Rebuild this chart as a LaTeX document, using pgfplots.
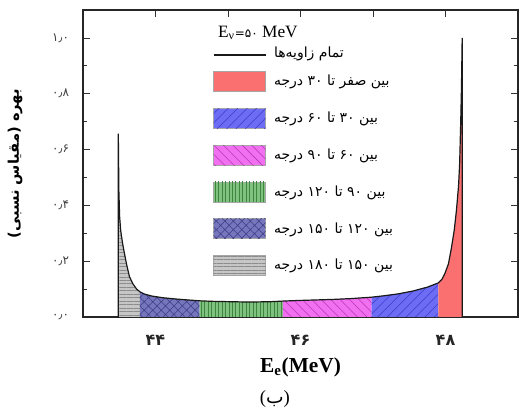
\documentclass[border=0pt]{standalone}
\usepackage{pgfplots}
\pgfplotsset{compat=1.18}
\usepackage{pgfplotstable}
\usepackage{fontspec}
\usetikzlibrary{patterns.meta}
\setmainfont{Liberation Serif}
\newfontfamily\fafont[Script=Arabic]{DejaVu Sans}
\newfontfamily\digfont{DejaVu Sans}
\TeXXeTstate=1

\definecolor{redfill}{RGB}{250,112,112}
\definecolor{bluefill}{RGB}{108,108,245}
\definecolor{bluehatch}{RGB}{60,60,200}
\definecolor{magfill}{RGB}{240,112,240}
\definecolor{maghatch}{RGB}{185,55,185}
\definecolor{greenfill}{RGB}{128,192,128}
\definecolor{greenhatch}{RGB}{60,135,60}
\definecolor{slatefill}{RGB}{118,118,188}
\definecolor{slatehatch}{RGB}{60,60,135}
\definecolor{greyfill}{RGB}{198,198,198}
\definecolor{greyhatch}{RGB}{140,140,140}

% spectrum (E_e in MeV, relative yield)
\pgfplotstableread{
x       y
43.487  0.000
43.487  0.657
43.495  0.450
43.505  0.360
43.520  0.310
43.545  0.265
43.570  0.230
43.600  0.190
43.640  0.145
43.690  0.118
43.740  0.100
43.786  0.090
43.850  0.082
43.950  0.075
44.100  0.069
44.300  0.064
44.450  0.061
44.607  0.058
44.800  0.056
45.000  0.055
45.200  0.054
45.400  0.054
45.600  0.055
45.756  0.057
45.950  0.059
46.200  0.061
46.450  0.063
46.700  0.066
46.980  0.071
47.150  0.076
47.350  0.083
47.550  0.093
47.750  0.107
47.900  0.122
47.950  0.135
47.990  0.155
48.040  0.190
48.080  0.245
48.120  0.310
48.150  0.380
48.180  0.470
48.195  0.550
48.210  0.700
48.220  0.820
48.230  1.000
48.230  0.000
}\spectrum

\pgfplotsset{
  box legend/.style={legend image code/.code={
    \draw[##1, draw=black!35, line width=0.5pt] (0pt,-7.5pt) rectangle (39pt,7.5pt);}},
  long line legend/.style={legend image code/.code={
    \draw[##1, line width=1.3pt, overlay] (0pt,-2.6pt) -- (39pt,-2.6pt);}},
}

\begin{document}
\begin{tikzpicture}
\begin{axis}[
  name=ax,
  scale only axis,
  clip=false,
  width=326.25pt,
  height=230.25pt,
  xmin=43, xmax=49,
  ymin=0, ymax=1.1,
  axis line style={black!85, line width=0.8pt},
  xtick={44,45,46,47,48},
  xticklabels={۴۴,,۴۶,,۴۸},
  ytick={0,0.2,0.4,0.6,0.8,1.0},
  yticklabels={۰٫۰,۰٫۲,۰٫۴,۰٫۶,۰٫۸,۱٫۰},
  minor ytick={0.1,0.3,0.5,0.7,0.9},
  tick align=inside,
  major tick length=5pt,
  minor tick length=3pt,
  tick style={black!80, line width=0.6pt},
  xticklabel style={font=\digfont\bfseries\fontsize{12}{14}\selectfont, text=black!85, yshift=-10pt},
  yticklabel style={font=\digfont\fontsize{9}{11}\selectfont, text=black!75, xshift=-7pt},
  every axis x label/.style={at={(rel axis cs:0.5,0)}, yshift=-37.5pt, anchor=center},
  every axis y label/.style={at={(rel axis cs:0,0.5)}, xshift=-51pt, rotate=90, anchor=center},
  xlabel={\bfseries\fontsize{16}{18}\selectfont E\textsubscript{e}(MeV)},
  ylabel={\fafont\bfseries\fontsize{11}{13}\selectfont\beginR بهره (مقیاس نسبی)\endR},
  legend style={at={(rel axis cs:0.299,0.878)}, anchor=north west, draw=none, fill=none,
    inner sep=0pt, row sep=12.1pt, column sep=4pt, font=\fafont\fontsize{10.5}{12}\selectfont,
    nodes={inner sep=2pt}},
  legend cell align=left,
  reverse legend,
]
\addplot[greyfill, fill=greyfill, draw=none, box legend,
  postaction={pattern={Lines[angle=0, distance=2.6pt, line width=0.4pt]}, pattern color=greyhatch},
  restrict x to domain=43.48:43.787] table {\spectrum} \closedcycle;
\addlegendentry{\beginR بین \beginL۱۵۰\endL{} تا \beginL۱۸۰\endL{} درجه\endR}

\addplot[slatefill, fill=slatefill, draw=none, box legend,
  postaction={pattern={Hatch[angle=45, distance=4.5pt, line width=0.4pt]}, pattern color=slatehatch},
  restrict x to domain=43.785:44.608] table {\spectrum} \closedcycle;
\addlegendentry{\beginR بین \beginL۱۲۰\endL{} تا \beginL۱۵۰\endL{} درجه\endR}

\addplot[greenfill, fill=greenfill, draw=none, box legend,
  postaction={pattern={Lines[angle=90, distance=2.6pt, line width=0.4pt]}, pattern color=greenhatch},
  restrict x to domain=44.606:45.757] table {\spectrum} \closedcycle;
\addlegendentry{\beginR بین \beginL۹۰\endL{} تا \beginL۱۲۰\endL{} درجه\endR}

\addplot[magfill, fill=magfill, draw=none, box legend,
  postaction={pattern={Lines[angle=-45, distance=5pt, line width=0.4pt]}, pattern color=maghatch},
  restrict x to domain=45.755:46.981] table {\spectrum} \closedcycle;
\addlegendentry{\beginR بین \beginL۶۰\endL{} تا \beginL۹۰\endL{} درجه\endR}

\addplot[bluefill, fill=bluefill, draw=none, box legend,
  postaction={pattern={Lines[angle=45, distance=5pt, line width=0.4pt]}, pattern color=bluehatch},
  restrict x to domain=46.979:47.901] table {\spectrum} \closedcycle;
\addlegendentry{\beginR بین \beginL۳۰\endL{} تا \beginL۶۰\endL{} درجه\endR}

\addplot[redfill, fill=redfill, draw=none, box legend,
  restrict x to domain=47.899:48.231] table {\spectrum} \closedcycle;
\addlegendentry{\beginR بین صفر تا \beginL۳۰\endL{} درجه\endR}

\addplot[black!90, line width=0.9pt, long line legend] table {\spectrum};
\addlegendentry{\raisebox{-5.6pt}[0pt][0pt]{\beginR تمام زاویه‌ها\endR}}

\node[anchor=base west, inner sep=0pt] at (rel axis cs:0.310,0.912)
  {\fontsize{13}{15}\selectfont E\textsubscript{ν}{\digfont\fontsize{9}{11}\selectfont =۵۰} MeV};
\node[anchor=center, inner sep=0pt, font=\fontsize{14}{16}\selectfont] at (rel axis cs:0.441,0) [yshift=-61.5pt]
  {({\fafont ب})};
\end{axis}
\pgfresetboundingbox
\path ([xshift=-62.25pt, yshift=-71.25pt]ax.south west) rectangle ([xshift=0.75pt, yshift=7.5pt]ax.north east);
\end{tikzpicture}
\end{document}
